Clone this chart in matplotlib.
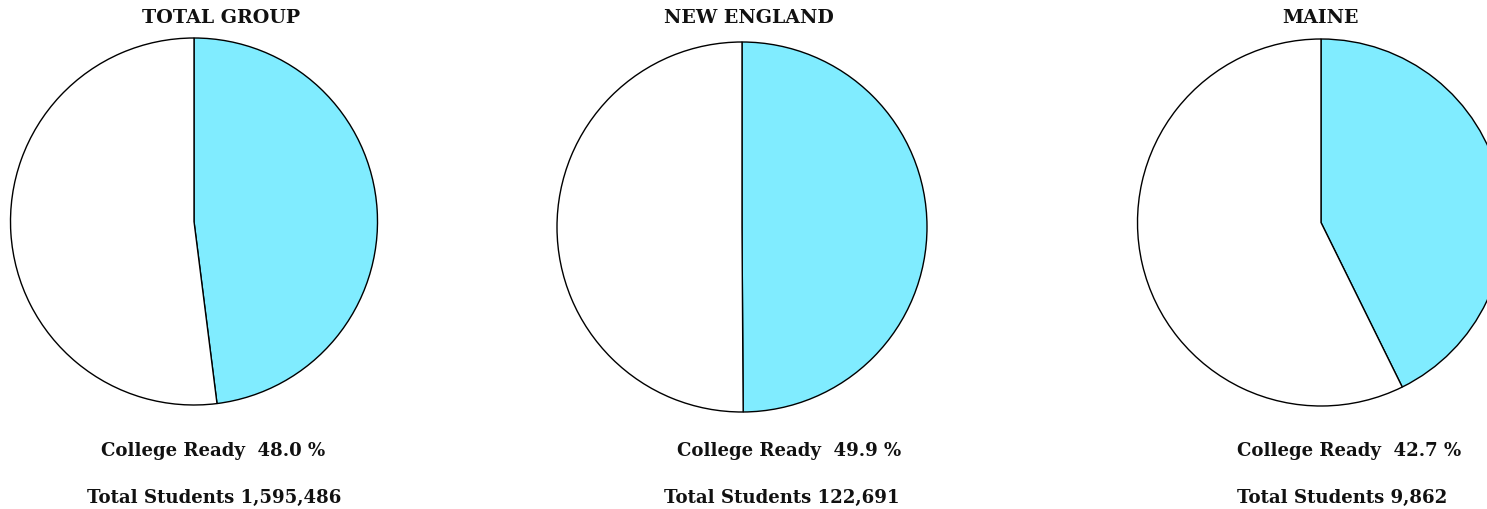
import matplotlib.pyplot as plt

# data
regions = ['TOTAL GROUP', 'NEW ENGLAND', 'MAINE']
college_ready = [48.0, 49.9, 42.7]
total_students = ['1,595,486', '122,691', '9,862']

W, H = 1487, 510
fig = plt.figure(figsize=(W / 100, H / 100), dpi=100)

# pixel layout: pie centre x, centre y, radius, text centres
pie_cx = [194, 742, 1321]
pie_cy = [222.5, 228, 223.5]
pie_r = [183.5, 185, 183.5]
title_x = [221.5, 749, 1320.5]
ready_x = [213.5, 789.5, 1349.5]
total_x = [214, 781.5, 1342]

cyan = '#80ECFF'
fnt = dict(family='DejaVu Serif', weight='bold', color='#111111')

for i in range(len(regions)):
    r = pie_r[i]
    ax = fig.add_axes([(pie_cx[i] - r - 2) / W, (H - pie_cy[i] - r - 2) / H,
                       (2 * r + 4) / W, (2 * r + 4) / H])
    ax.pie([college_ready[i], 100 - college_ready[i]], colors=[cyan, 'white'],
           startangle=90, counterclock=False, radius=1,
           wedgeprops=dict(edgecolor='black', linewidth=1.0))
    lim = (r + 2) / r
    ax.set_xlim(-lim, lim)
    ax.set_ylim(-lim, lim)
    ax.set_aspect('equal')
    ax.axis('off')

    fig.text(title_x[i] / W, 1 - 18 / H, regions[i], ha='center', va='center',
             fontsize=13.7, **fnt)
    fig.text(ready_x[i] / W, 1 - 451 / H, 'College Ready  %.1f %%' % college_ready[i],
             ha='center', va='center', fontsize=13.1, **fnt)
    fig.text(total_x[i] / W, 1 - 498 / H, 'Total Students ' + total_students[i],
             ha='center', va='center', fontsize=13.1, **fnt)

fig.savefig('out.png', dpi=100)
